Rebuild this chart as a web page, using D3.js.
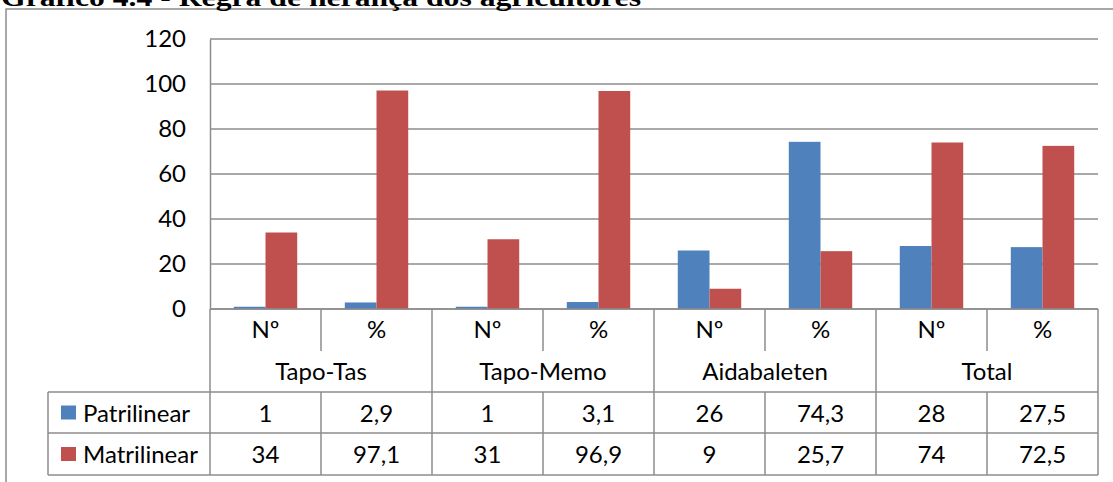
<!DOCTYPE html>
<html><head><meta charset="utf-8">
<script src="https://cdn.jsdelivr.net/npm/d3@7"></script>
<style>
html,body{margin:0;padding:0;background:#fff;overflow:hidden}
svg{display:block}
</style></head>
<body>
<svg id="c" width="1113" height="482"></svg>
<script>
const title = "Gráfico 4.4 - Regra de herança dos agricultores";
const groups = ["Tapo-Tas", "Tapo-Memo", "Aidabaleten", "Total"];
const subLabels = ["Nº", "%"];
const categories = ["Tapo-Tas|Nº","Tapo-Tas|%","Tapo-Memo|Nº","Tapo-Memo|%","Aidabaleten|Nº","Aidabaleten|%","Total|Nº","Total|%"];
const seriesNames = ["Patrilinear", "Matrilinear"];
const patrilinear = [1, 2.9, 1, 3.1, 26, 74.3, 28, 27.5];
const matrilinear = [34, 97.1, 31, 96.9, 9, 25.7, 74, 72.5];
const yTicks = [0, 20, 40, 60, 80, 100, 120];
const colors = ["#4F81BD", "#C0504D"];

const svg = d3.select("#c");
const FONT = "Lato, 'Open Sans', sans-serif";
const FS = 24;
const lineCol = "#8c8c8c";

const L = 210, R = 1098, T = 39, B = 309;
const tableLeft = 48, rowTops = [392, 433, 475];

// outer frame
svg.append("rect").attr("x", 6).attr("y", 9).attr("width", 1200).attr("height", 600)
  .attr("fill", "none").attr("stroke", "#8c8c8c").attr("stroke-width", 1.5);

// title (cut off at top, as in the reference)
svg.append("text").attr("x", 1).attr("y", 5.5)
  .attr("font-family", "'Liberation Serif', 'Times New Roman', serif")
  .attr("font-weight", "bold").attr("font-size", 25)
  .attr("textLength", 640).attr("lengthAdjust", "spacingAndGlyphs")
  .text(title);

const x = d3.scaleBand().domain(categories).range([L, R]).padding(0);
const x1 = d3.scaleBand().domain(seriesNames).range([0, x.bandwidth()]).paddingInner(0).paddingOuter(0.75);
const y = d3.scaleLinear().domain([0, 120]).range([B, T]);

// gridlines
svg.append("g").selectAll("line").data(yTicks).join("line")
  .attr("x1", L).attr("x2", R).attr("y1", d => y(d)).attr("y2", d => y(d))
  .attr("stroke", lineCol).attr("stroke-width", 1.5);

// y axis
const yAxis = svg.append("g").attr("transform", `translate(${L},0)`)
  .call(d3.axisLeft(y).tickValues(yTicks).tickSize(0).tickPadding(24));
yAxis.select(".domain").attr("stroke", lineCol).attr("stroke-width", 1.5);
yAxis.selectAll("text").attr("font-family", FONT).attr("font-size", FS).attr("fill", "#000");

// bars
const seriesData = [patrilinear, matrilinear];
seriesData.forEach((vals, si) => {
  svg.append("g").selectAll("rect").data(vals).join("rect")
    .attr("x", (d, i) => x(categories[i]) + x1(seriesNames[si]))
    .attr("width", x1.bandwidth())
    .attr("y", d => y(d))
    .attr("height", d => y(0) - y(d))
    .attr("fill", colors[si]);
});

// axis line at zero
svg.append("line").attr("x1", L).attr("x2", R).attr("y1", B).attr("y2", B)
  .attr("stroke", lineCol).attr("stroke-width", 1.5);

const tg = svg.append("g").attr("stroke", lineCol).attr("stroke-width", 1.5);
categories.forEach((c, i) => {
  const xl = x(c);
  if (i === 0) return;
  const isGroup = i % 2 === 0;
  if (isGroup) {
    tg.append("line").attr("x1", xl).attr("x2", xl).attr("y1", B).attr("y2", rowTops[2]);
  } else {
    tg.append("line").attr("x1", xl).attr("x2", xl).attr("y1", B).attr("y2", 351);
    tg.append("line").attr("x1", xl).attr("x2", xl).attr("y1", rowTops[0]).attr("y2", rowTops[2]);
  }
});
tg.append("line").attr("x1", L).attr("x2", L).attr("y1", B).attr("y2", rowTops[2]);
tg.append("line").attr("x1", R).attr("x2", R).attr("y1", B).attr("y2", rowTops[2]);
tg.append("line").attr("x1", tableLeft).attr("x2", tableLeft).attr("y1", rowTops[0]).attr("y2", rowTops[2]);
rowTops.forEach(ry => tg.append("line").attr("x1", tableLeft).attr("x2", R).attr("y1", ry).attr("y2", ry));

const txt = svg.append("g").attr("font-family", FONT).attr("font-size", FS).attr("fill", "#000")
  .attr("text-anchor", "middle");

categories.forEach((c, i) => {
  txt.append("text").attr("x", x(c) + x.bandwidth() / 2).attr("y", 330).attr("dy", "0.35em")
    .text(subLabels[i % 2]);
});
groups.forEach((g, gi) => {
  const x0 = x(categories[gi * 2]), x2 = x(categories[gi * 2 + 1]) + x.bandwidth();
  txt.append("text").attr("x", (x0 + x2) / 2).attr("y", 372).attr("dy", "0.35em").text(g);
});
const fmt = v => String(v).replace(".", ",");
seriesData.forEach((vals, si) => {
  const cy = (rowTops[si] + rowTops[si + 1]) / 2;
  vals.forEach((v, i) => {
    txt.append("text").attr("x", x(categories[i]) + x.bandwidth() / 2).attr("y", cy + 1).attr("dy", "0.35em").text(fmt(v));
  });
  svg.append("rect").attr("x", 61).attr("y", cy - 7).attr("width", 15).attr("height", 14).attr("fill", colors[si]);
  svg.append("text").attr("x", 83).attr("y", cy + 1).attr("dy", "0.35em")
    .attr("font-family", FONT).attr("font-size", FS).attr("fill", "#000").text(seriesNames[si]);
});
</script>
</body></html>
